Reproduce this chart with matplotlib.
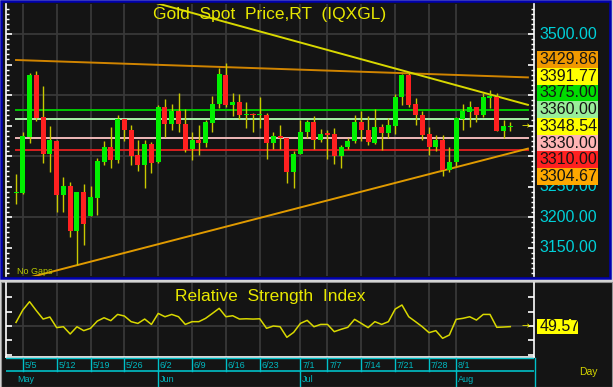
import matplotlib
matplotlib.use("Agg")
import matplotlib.pyplot as plt
from matplotlib.patches import Rectangle
from matplotlib.ticker import MultipleLocator

plt.rcParams['font.family'] = ['Liberation Sans', 'DejaVu Sans']

# daily bars, 5/2 .. 8/13 (no gaps)
opens = [3239, 3240, 3331, 3433, 3364, 3303, 3325, 3236, 3251, 3177,
         3241, 3202, 3231, 3291, 3314, 3293, 3360, 3343, 3301, 3285,
         3319, 3290, 3381, 3352, 3373, 3352, 3311, 3326, 3322, 3354,
         3385, 3433, 3384, 3388, 3367, 3369, 3367, 3368, 3322, 3333,
         3330, 3274, 3303, 3339, 3356, 3326, 3337, 3336, 3300, 3314,
         3324, 3356, 3342, 3322, 3347, 3337, 3349, 3396, 3433, 3386,
         3368, 3336, 3314, 3326, 3277, 3290, 3360, 3372, 3380, 3367,
         3395, 3397, 3341, 3348]
highs = [3270, 3339, 3436, 3439, 3415, 3349, 3326, 3265, 3258, 3241,
         3254, 3251, 3296, 3325, 3347, 3367, 3361, 3351, 3326, 3326,
         3323, 3384, 3393, 3385, 3403, 3377, 3339, 3351, 3359, 3399,
         3445, 3452, 3404, 3401, 3389, 3371, 3396, 3370, 3339, 3351,
         3330, 3308, 3359, 3359, 3366, 3345, 3343, 3346, 3318, 3329,
         3368, 3373, 3366, 3377, 3352, 3363, 3401, 3434, 3436, 3395,
         3373, 3348, 3334, 3334, 3315, 3364, 3386, 3391, 3381, 3403,
         3409, 3403, 3359, 3355]
lows = [3222, 3237, 3322, 3357, 3288, 3274, 3209, 3209, 3168, 3121,
        3154, 3201, 3204, 3285, 3280, 3288, 3324, 3285, 3275, 3247,
        3272, 3288, 3331, 3343, 3339, 3307, 3293, 3302, 3315, 3339,
        3379, 3381, 3366, 3361, 3346, 3339, 3346, 3295, 3311, 3311,
        3255, 3248, 3303, 3329, 3311, 3323, 3295, 3287, 3281, 3311,
        3321, 3324, 3318, 3319, 3310, 3330, 3336, 3383, 3381, 3351,
        3326, 3302, 3308, 3268, 3274, 3283, 3343, 3348, 3356, 3364,
        3378, 3341, 3330, 3341]
closes = [3240, 3333, 3433, 3363, 3303, 3326, 3236, 3251, 3177, 3241,
          3188, 3232, 3292, 3315, 3293, 3360, 3342, 3300, 3285, 3319,
          3288, 3381, 3352, 3374, 3352, 3310, 3326, 3322, 3355, 3386,
          3434, 3383, 3388, 3367, 3369, 3367, 3369, 3322, 3333, 3329,
          3274, 3303, 3339, 3356, 3326, 3336, 3334, 3300, 3314, 3325,
          3355, 3342, 3323, 3347, 3337, 3351, 3396, 3433, 3384, 3367,
          3335, 3314, 3326, 3277, 3291, 3363, 3374, 3380, 3367, 3396,
          3399, 3341, 3349, 3348.54]
rsi = [52.5, 61.0, 66.8, 60.6, 54.8, 56.2, 48.9, 49.5, 44.5, 49.5,
       46.8, 48.4, 53.4, 55.7, 53.7, 58.0, 56.9, 53.0, 51.8, 54.8,
       51.1, 58.7, 56.4, 58.0, 56.4, 51.1, 53.0, 53.0, 55.3, 58.7,
       62.2, 56.4, 57.1, 54.8, 55.0, 54.8, 55.0, 48.4, 50.0, 49.5,
       42.2, 45.6, 51.8, 53.9, 49.5, 51.1, 51.1, 46.1, 47.7, 49.1,
       54.6, 51.8, 48.9, 53.0, 51.1, 53.0, 61.7, 64.5, 56.4, 53.0,
       49.5, 45.4, 46.8, 41.5, 43.8, 54.6, 55.3, 56.4, 54.1, 58.0,
       58.0, 49.1, 49.3, 49.57]

tick_pos = [1, 6, 11, 16, 21, 26, 31, 36, 42, 46, 51, 56, 61, 65]
tick_labels = ["5/5", "5/12", "5/19", "5/26", "6/2", "6/9", "6/16", "6/23",
               "7/1", "7/7", "7/14", "7/21", "7/28", "8/1"]
month_pos = [0, 21, 42, 65]
month_labels = ["May", "Jun", "Jul", "Aug"]

levels = [3375.00, 3360.00, 3330.00, 3310.00]
level_colors = ["#00c800", "#a8f0a8", "#f0b8b8", "#d82020"]
resist_line = [3457.4, 3429.86]    # value at first / last bar
trend_line = [3613.7, 3391.77]
support_line = [3095.2, 3304.67]

box_values = [3429.86, 3391.77, 3375.00, 3360.00, 3348.54, 3330.00, 3310.00, 3304.67]
box_colors = ["#f09800", "#ffff00", "#00dc00", "#98ee98", "#ffff00", "#ffb4b4", "#ff2020", "#ffa800"]
axis_prices = [3150, 3200, 3250, 3300, 3350, 3400, 3450, 3500]
grid_prices = [3200, 3300, 3400, 3500]

W, H = 613, 387
BG = "#141414"
GRID = "#383838"
CYAN = "#00d0d8"


def fr(x0, y0, x1, y1):
    # pixel box (top-left origin) -> figure rect
    return [x0 / W, 1 - y1 / H, (x1 - x0) / W, (y1 - y0) / H]


fig = plt.figure(figsize=(W / 100, H / 100), dpi=100, facecolor="#d6d6d6")

# panel backgrounds
fig.add_artist(Rectangle((1 / W, 1 - 278 / H), 609 / W, 277 / H, transform=fig.transFigure,
                         facecolor=BG, edgecolor="#0000b0", lw=1.8, zorder=0))
fig.add_artist(Rectangle((0.5 / W, 0), 611 / W, 105 / H, transform=fig.transFigure,
                         facecolor=BG, edgecolor="#909090", lw=0.8, zorder=0))

n = len(closes)
xs = list(range(n))
xl = (-1.48, 76.5)
x_end = 75.6

# ---------------- main price panel
ax = fig.add_axes(fr(6, 4, 534, 276))
ax.set_facecolor(BG)
ax.set_xlim(*xl)
ax.set_ylim(3103.3, 3549.2)
for g in grid_prices:
    ax.axhline(g, color=GRID, lw=1.3, zorder=0)
for p in tick_pos:
    ax.axvline(p, color=GRID, lw=1.3, zorder=0)

for v, c in zip(levels, level_colors):
    ax.plot([0, x_end], [v, v], color=c, lw=1.4, zorder=1)


def trend(vals, col):
    slope = (vals[1] - vals[0]) / (n - 1)
    ax.plot([0, x_end], [vals[0], vals[0] + slope * x_end], color=col, lw=1.4, zorder=2)


trend(resist_line, "#d08400")
trend(trend_line, "#d8d800")
trend(support_line, "#e09a00")

ax.vlines(xs, lows, highs, color="#c8c800", lw=1.0, zorder=3)
bottoms = [min(o, c) for o, c in zip(opens, closes)]
heights = [max(abs(c - o), 1.6) for o, c in zip(opens, closes)]
cols = ["#00f000" if c >= o else "#ff2020" for o, c in zip(opens, closes)]
ax.bar(xs, heights, bottom=bottoms, width=0.74, color=cols, edgecolor="none", zorder=4)

ax.text(75.3, closes[-1], "\u2192", color="#e8e800", fontsize=7, ha="center", va="center",
        family="DejaVu Sans", zorder=5)

for s in ["top", "bottom"]:
    ax.spines[s].set_visible(False)
for s in ["left", "right"]:
    ax.spines[s].set_color("white")
    ax.spines[s].set_linewidth(1.2)
ax.set_xticks([])
ax.yaxis.set_major_locator(MultipleLocator(50))
ax.yaxis.set_minor_locator(MultipleLocator(50 / 6))
ax.tick_params(axis="y", which="both", left=True, right=True, labelleft=False,
               labelright=False, direction="in", colors="white")
ax.tick_params(axis="y", which="major", length=4.5, width=1.2)
ax.tick_params(axis="y", which="minor", length=2.5, width=1.0)

ax.text(0.5, 1 - 3 / 272, "Gold  Spot  Price,RT  (IQXGL)", transform=ax.transAxes,
        color="#e8e800", fontsize=12.5, ha="center", va="top", zorder=6)
fig.text(17 / W, 1 - 274.5 / H, "No Gaps", color="#b8c800", fontsize=6.5, va="baseline")

# price labels column
lab = fig.add_axes(fr(534, 4, 609, 276))
lab.set_xlim(0, 1)
lab.set_ylim(ax.get_ylim())
lab.axis("off")
bh = 27.4
k_last = box_values.index(closes[-1])
centers = [closes[-1] + (k_last - k) * bh for k in range(len(box_values))]
stack_top = centers[0] + bh / 2
stack_bot = centers[-1] - bh / 2
for v in axis_prices:
    # labels fully under the box stack are hidden, as in the terminal display
    if stack_bot < v < stack_top:
        continue
    lab.text(0.07, v, f"{v:.2f}", color=CYAN, fontsize=11.5, va="center", ha="left", zorder=1)
for yc, v, c in zip(centers, box_values, box_colors):
    lab.add_patch(Rectangle((0.04, yc - bh / 2), 0.815, bh, facecolor=c, edgecolor="none", zorder=2))
    lab.text(0.07, yc, f"{v:.2f}", color="#141414", fontsize=11.5, va="center", ha="left", zorder=3)

# ---------------- RSI panel
rx = fig.add_axes(fr(6, 283, 534, 357))
rx.set_facecolor(BG)
rx.set_xlim(*xl)
rx.set_ylim(28.6, 79.7)
rx.axhline(50, color=GRID, lw=1.3, zorder=0)
for p in tick_pos:
    rx.axvline(p, color=GRID, lw=1.3, zorder=0)
rx.plot(xs, rsi, color="#d8d800", lw=1.1, zorder=2)
rx.text(75.3, rsi[-1], "\u2192", color="#e8e800", fontsize=7, ha="center", va="center",
        family="DejaVu Sans")
rx.text(0.5, 1 - 6 / 74, "Relative  Strength  Index", transform=rx.transAxes,
        color="#e8e800", fontsize=12.5, ha="center", va="top")
rx.spines["top"].set_visible(False)
for s in ["left", "right", "bottom"]:
    rx.spines[s].set_color("white")
    rx.spines[s].set_linewidth(1.2)
rx.set_xticks([])
rx.yaxis.set_major_locator(MultipleLocator(10))
rx.tick_params(axis="y", which="both", left=True, right=True, labelleft=False,
               labelright=False, direction="in", colors="white", length=4, width=1.2)

rl = fig.add_axes(fr(534, 283, 609, 357))
rl.set_xlim(0, 1)
rl.set_ylim(rx.get_ylim())
rl.axis("off")
rl.add_patch(Rectangle((0.04, rsi[-1] - 5.2), 0.55, 10.4, facecolor="#ffff00", edgecolor="none"))
rl.text(0.07, rsi[-1], f"{rsi[-1]:.2f}", color="#141414", fontsize=11.5, va="center", ha="left")

# ---------------- date rows
dx = fig.add_axes(fr(6, 357, 534, 387))
dx.set_xlim(*xl)
dx.set_ylim(0, 30)
dx.axis("off")
dx.plot(xl, [16, 16], color="#00c0c8", lw=1.2)
dx.plot(xl, [29, 29], color="#00c0c8", lw=1.0)
for p, t in zip(tick_pos, tick_labels):
    dx.plot([p, p], [16, 29], color="#00c0c8", lw=1.0)
    dx.text(p + 0.25, 22, t, color="#00b8c0", fontsize=6.5, va="center", ha="left")
for p, t in zip(month_pos, month_labels):
    if p > 0:
        dx.plot([p, p], [0, 16], color="#00c0c8", lw=1.0)
    dx.text(p + 0.2, 7.5, t, color="#00b8c0", fontsize=6.5, va="center", ha="left")
fig.add_artist(plt.Line2D([535 / W, 535 / W], [0, 1 - 358 / H], transform=fig.transFigure,
                          color="#00c0c8", lw=1.0))
fig.text(579 / W, 1 - 372 / H, "Day", color="#d4d400", fontsize=7.5, va="center", ha="left")

fig.savefig("out.png", dpi=100, facecolor=fig.get_facecolor())
